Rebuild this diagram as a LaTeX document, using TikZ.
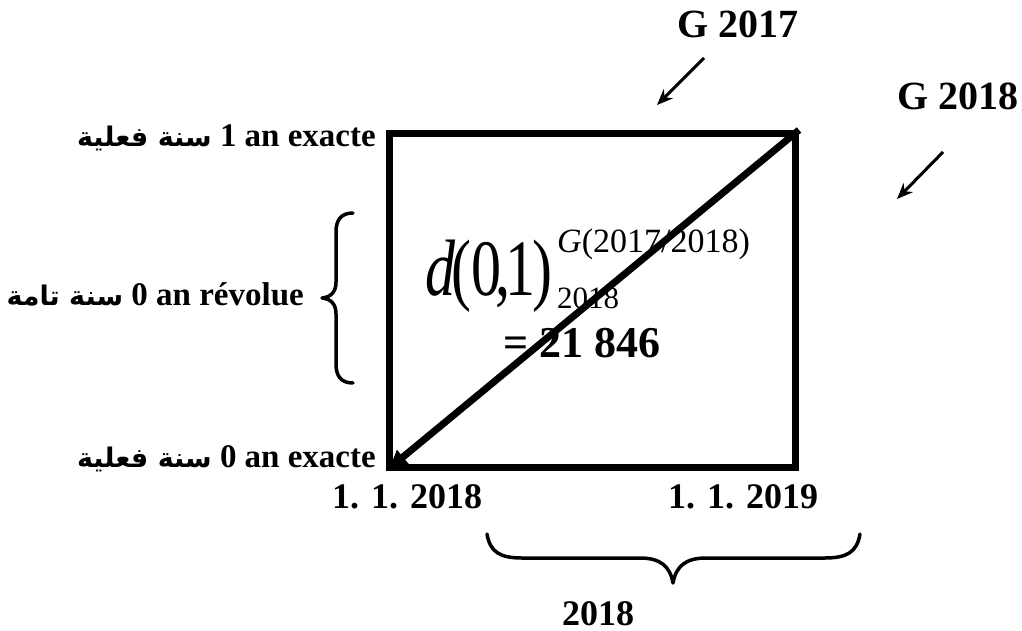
\documentclass[tikz,border=0pt]{standalone}
\usepackage{fontspec}
\usepackage{graphicx}
\setmainfont{Liberation Serif}
\newfontfamily\arabicfont[Script=Arabic]{DejaVu Sans}
\usetikzlibrary{arrows.meta}
\TeXXeTstate=1
\begin{document}
\begin{tikzpicture}[x=1pt,y=-1pt,
  lbl/.style={inner sep=0pt, font=\fontsize{33}{33}\selectfont\bfseries},
  date/.style={inner sep=0pt, font=\fontsize{36}{36}\selectfont\bfseries},
  glbl/.style={inner sep=0pt, font=\fontsize{40}{40}\selectfont\bfseries},
  thinarrow/.style={line width=3pt, -{Stealth[length=16pt,width=13pt]}},
  bracepath/.style={line width=3.5pt, line cap=round, line join=round}]
\useasboundingbox (0,0) rectangle (1022,631);

% box
\node[draw, line width=7pt, minimum width=406pt, minimum height=334pt, inner sep=0pt, anchor=north west] (box) at (386,130) {};
\draw[line width=7pt, -{Latex[length=22pt,width=20pt]}] (box.north east) -- (box.south west);

% top labels and arrows
\node[glbl, anchor=base west] (g17) at (677,38) {G 2017};
\node[glbl, anchor=base west] (g18) at (897,110) {G 2018};
\coordinate (g17s) at (704,58);
\coordinate (g17e) at (657,105);
\coordinate (g18s) at (943,152);
\coordinate (g18e) at (897,199);
\draw[thinarrow] (g17s) -- (g17e);
\draw[thinarrow] (g18s) -- (g18e);

% left labels
\node[lbl, anchor=base east] (l1) at (376,147) {{\arabicfont\fontsize{27}{27}\selectfont\beginR سنة فعلية\endR} 1 an exacte};
\node[lbl, anchor=base east] (l2) at (304,305) {{\arabicfont\fontsize{27}{27}\selectfont\beginR سنة تامة\endR} 0 an révolue};
\node[lbl, anchor=base east] (l3) at (376,467) {{\arabicfont\fontsize{27}{27}\selectfont\beginR سنة فعلية\endR} 0 an exacte};

% left brace
\draw[bracepath] (353,213) .. controls (341,213) and (336,220) .. (336,232) -- (336,282)
  .. controls (336,292) and (331,297) .. (322,298)
  .. controls (331,299) and (336,304) .. (336,314) -- (336,364)
  .. controls (336,376) and (341,383) .. (353,383);

% formula
\node[inner sep=0pt, anchor=base west] (dmain) at (425,295) {\fontsize{80}{80}\selectfont\scalebox{0.75}[1]{\textit{d}\kern-5pt(0\kern-8pt,\kern-7pt1\kern-4pt)}};
\node[inner sep=0pt, anchor=base west] (sup) at (557,252) {\fontsize{34}{34}\selectfont\textit{G}(2017/2018)};
\node[inner sep=0pt, anchor=base west] (sub) at (557,308) {\fontsize{31}{31}\selectfont 2018};
\node[inner sep=0pt, anchor=base west] (val) at (503,357) {\fontsize{44}{44}\selectfont\bfseries = 21 846};

% dates
\node[date, anchor=base west] (d1) at (332,508) {1. 1. 2018};
\node[date, anchor=base west] (d2) at (668,508) {1. 1. 2019};

% bottom brace
\draw[bracepath] (487,534) .. controls (490,552) and (500,558) .. (522,558) -- (640,558)
  .. controls (660,558) and (670,566) .. (673,583)
  .. controls (676,566) and (686,558) .. (706,558) -- (825,558)
  .. controls (847,558) and (857,552) .. (860,534);
\node[date, anchor=base west] (yr) at (562,625) {2018};
\end{tikzpicture}
\end{document}
